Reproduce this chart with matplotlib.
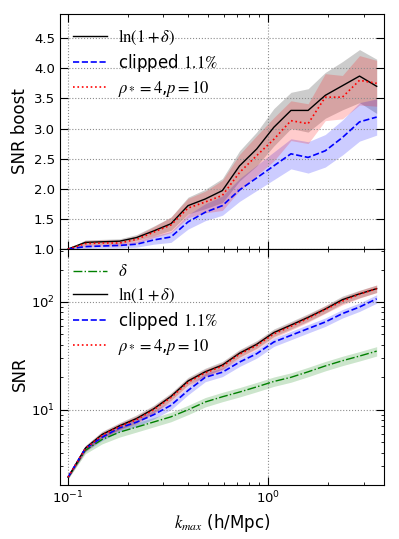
import numpy as np
import matplotlib
matplotlib.use('Agg')
import matplotlib.pyplot as plt

plt.rcParams['mathtext.fontset'] = 'stix'
plt.rcParams['font.family'] = 'DejaVu Sans'

# k_max values (h/Mpc)
k = [0.100, 0.122, 0.148, 0.181, 0.220, 0.268, 0.327, 0.398, 0.485, 0.591,
     0.720, 0.877, 1.068, 1.301, 1.585, 1.931, 2.352, 2.865, 3.49]

# SNR boost (top panel)
boost_log = [1.00, 1.11, 1.12, 1.13, 1.19, 1.30, 1.42, 1.72, 1.83, 1.97,
             2.38, 2.66, 3.02, 3.30, 3.30, 3.55, 3.71, 3.87, 3.70]
boost_log_err = [0.00, 0.04, 0.04, 0.04, 0.05, 0.08, 0.11, 0.14, 0.16, 0.20,
                 0.25, 0.28, 0.31, 0.30, 0.36, 0.38, 0.40, 0.44, 0.45]
boost_clip = [1.00, 1.04, 1.05, 1.06, 1.08, 1.15, 1.20, 1.45, 1.61, 1.72,
              1.98, 2.18, 2.38, 2.58, 2.52, 2.63, 2.85, 3.11, 3.19]
boost_clip_err = [0.00, 0.03, 0.03, 0.04, 0.05, 0.07, 0.09, 0.12, 0.14, 0.16,
                  0.19, 0.21, 0.23, 0.25, 0.26, 0.27, 0.29, 0.32, 0.30]
boost_rho = [1.00, 1.09, 1.10, 1.10, 1.16, 1.28, 1.40, 1.68, 1.78, 1.89,
             2.27, 2.55, 2.82, 3.13, 3.08, 3.52, 3.52, 3.80, 3.75]
boost_rho_err = [0.00, 0.05, 0.05, 0.05, 0.06, 0.09, 0.13, 0.16, 0.18, 0.25,
                 0.30, 0.33, 0.36, 0.33, 0.33, 0.39, 0.36, 0.41, 0.38]

# SNR (bottom panel)
snr_delta = [2.35, 4.2, 5.3, 6.2, 6.9, 7.7, 8.6, 10.0, 11.8, 13.2,
             14.6, 16.3, 18.3, 20.0, 22.5, 25.5, 28.5, 31.5, 35.0]
snr_log = [2.37, 4.4, 5.9, 7.1, 8.3, 10.2, 13.3, 18.5, 22.5, 26.0,
           33.5, 40.5, 52.0, 61.0, 72.0, 86.0, 105.0, 119.0, 133.0]
snr_clip = [2.37, 4.35, 5.56, 6.8, 7.67, 9.0, 11.0, 15.1, 20.0, 22.3,
            27.7, 33.1, 42.5, 49.0, 56.6, 65.2, 78.0, 89.8, 107.0]
snr_rho = [2.37, 4.35, 5.8, 7.0, 8.1, 10.0, 13.0, 18.0, 22.0, 25.4,
           32.8, 39.5, 50.5, 59.5, 70.5, 85.0, 102.0, 118.0, 133.0]
# relative 1-sigma spread of the SNR bands
snr_delta_rel = [0.03, 0.07, 0.09, 0.10, 0.10, 0.10, 0.10, 0.10, 0.10, 0.10,
                 0.10, 0.10, 0.10, 0.10, 0.10, 0.10, 0.10, 0.10, 0.10]
snr_log_rel = [0.03, 0.06, 0.07, 0.07, 0.08, 0.08, 0.08, 0.08, 0.08, 0.08,
               0.08, 0.08, 0.08, 0.08, 0.08, 0.08, 0.08, 0.08, 0.08]
snr_clip_rel = [0.03, 0.06, 0.07, 0.08, 0.09, 0.09, 0.09, 0.09, 0.09, 0.09,
                0.09, 0.09, 0.09, 0.09, 0.09, 0.09, 0.09, 0.09, 0.09]
snr_rho_rel = snr_log_rel

k = np.array(k)

fig = plt.figure(figsize=(3.99, 5.39), dpi=100)
ax1 = fig.add_axes([0.150, 0.538, 0.812, 0.436])
ax2 = fig.add_axes([0.150, 0.100, 0.812, 0.438], sharex=ax1)


def band(ax, y, err, color, rel=False):
    y = np.array(y)
    err = np.array(err)
    if rel:
        lo, hi = y * (1 - err), y * (1 + err)
    else:
        lo, hi = y - err, y + err
    ax.fill_between(k, lo, hi, color=color, alpha=0.2, lw=0)


# top panel
band(ax1, boost_log, boost_log_err, 'k')
band(ax1, boost_clip, boost_clip_err, 'b')
band(ax1, boost_rho, boost_rho_err, 'r')
ax1.plot(k, boost_log, 'k-', lw=1, label=r'$\ln(1+\delta)$')
ax1.plot(k, boost_clip, 'b--', lw=1.2, label=r'clipped $1.1\%$')
ax1.plot(k, boost_rho, 'r:', lw=1.2, label=r'$\rho_*=4$,$p=10$')

# bottom panel
band(ax2, snr_delta, snr_delta_rel, 'g', rel=True)
band(ax2, snr_log, snr_log_rel, 'k', rel=True)
band(ax2, snr_clip, snr_clip_rel, 'b', rel=True)
band(ax2, snr_rho, snr_rho_rel, 'r', rel=True)
ax2.plot(k, snr_delta, 'g-.', lw=1, label=r'$\delta$')
ax2.plot(k, snr_log, 'k-', lw=1, label=r'$\ln(1+\delta)$')
ax2.plot(k, snr_clip, 'b--', lw=1.2, label=r'clipped $1.1\%$')
ax2.plot(k, snr_rho, 'r:', lw=1.2, label=r'$\rho_*=4$,$p=10$')

ax1.set_xscale('log')
ax2.set_yscale('log')
ax1.set_xlim(0.091, 3.79)
ax1.set_ylim(1.0, 4.9)
ax2.set_ylim(2.0, 310)
ax1.set_yticks([1.0, 1.5, 2.0, 2.5, 3.0, 3.5, 4.0, 4.5])
plt.setp(ax1.get_xticklabels(), visible=False)

for ax in (ax1, ax2):
    ax.grid(True, which='major', color='0.55', ls=':', lw=0.8)
    ax.tick_params(which='both', direction='in', top=True, right=True,
                   labelsize=9.5)
    ax.tick_params(which='major', length=5.5)
    ax.tick_params(which='minor', length=2.5)
    ax.legend(loc='upper left', frameon=False, fontsize=12,
              handlelength=2.0, handletextpad=0.7, labelspacing=0.3,
              borderaxespad=0.4)

ax1.set_ylabel('SNR boost', fontsize=12)
ax2.set_ylabel('SNR', fontsize=12)
ax2.set_xlabel(r'$k_{max}$ (h/Mpc)', fontsize=12)
ax1.yaxis.set_label_coords(-0.095, 0.5)
ax2.yaxis.set_label_coords(-0.095, 0.47)

fig.savefig('out.png', dpi=100)
